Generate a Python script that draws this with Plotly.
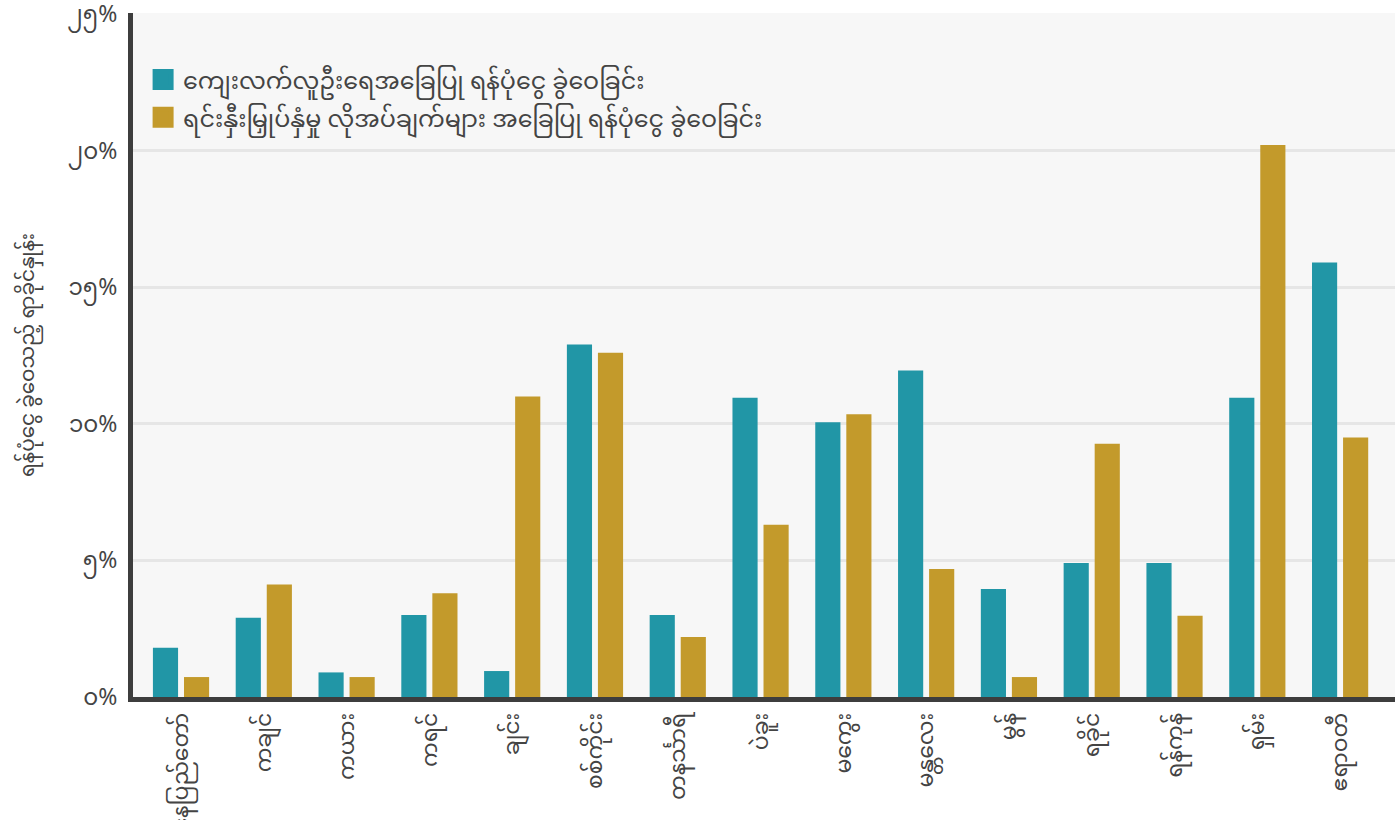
import plotly.graph_objects as go

regions = ["နေပြည်တော်", "ကချင်", "ကယား", "ကရင်", "ချင်း", "စစ်ကိုင်း", "တနင်္သာရီ",
           "ပဲခူး", "မကွေး", "မန္တလေး", "မွန်", "ရခိုင်", "ရန်ကုန်", "ရှမ်း", "ဧရာဝတီ"]
rural_pop = [1.8, 2.9, 0.9, 3.0, 0.95, 12.9, 3.0, 10.95, 10.05, 11.95, 3.95, 4.9, 4.9, 10.95, 15.9]
resource_need = [0.73, 4.12, 0.73, 3.8, 11.0, 12.6, 2.2, 6.3, 10.35, 4.68, 0.73, 9.27, 2.97, 20.2, 9.5]

series_names = ["ကျေးလက်လူဦးရေအခြေပြု ရန်ပုံငွေ ခွဲဝေခြင်း",
                "ရင်းနှီးမြှုပ်နှံမှု လိုအပ်ချက်များ အခြေပြု ရန်ပုံငွေ ခွဲဝေခြင်း"]
colors = ["#2196a6", "#c39a2b"]

tick_vals = [0, 5, 10, 15, 20, 25]
tick_text = ["၀%", "၅%", "၁၀%", "၁၅%", "၂၀%", "၂၅%"]
y_title = "ရန်ပုံငွေ ခွဲဝေသည့် ရာခိုင်နှုန်း"

FONT = "Noto Sans Myanmar, Padauk, Myanmar Text, Noto Sans, Roboto, sans-serif"
TXT = "#444444"

fig = go.Figure()
for name, vals, col in zip(series_names, [rural_pop, resource_need], colors):
    fig.add_trace(go.Bar(x=regions, y=vals, name=name, marker=dict(color=col, line=dict(width=0)),
                         showlegend=False, hovertemplate="%{x}: %{y}%<extra></extra>"))
# legend proxies (larger squares)
for i, (name, col) in enumerate(zip(series_names, colors)):
    fig.add_trace(go.Scatter(x=[None], y=[None], mode="markers", name=name,
                             legendgroup="g%d" % i,
                             marker=dict(symbol="square", size=16, color=col,
                                         line=dict(color=col, width=9)),
                             showlegend=True, hoverinfo="skip"))

fig.update_layout(
    width=1396, height=820,
    margin=dict(l=133, r=1, t=13, b=123, autoexpand=False),
    paper_bgcolor="white", plot_bgcolor="#f7f7f7",
    barmode="group", bargap=0.25, bargroupgap=0.19,
    font=dict(family=FONT, color=TXT, size=20),
    legend=dict(x=0.008, y=0.935, xanchor="left", yanchor="top",
                bgcolor="rgba(0,0,0,0)", font=dict(size=23.8, color=TXT),
                tracegroupgap=4, itemwidth=30),
    xaxis=dict(type="category", range=[-0.58, 14.663], tickangle=-90, automargin=False,
               showline=True, linewidth=5, linecolor="#3d3d3d", showgrid=False,
               ticks="", tickfont=dict(size=22, color=TXT), ticklabelstandoff=2,
               fixedrange=True),
    yaxis=dict(range=[0, 25.03], tickvals=tick_vals, ticktext=tick_text, automargin=False,
               showline=True, linewidth=5, linecolor="#3d3d3d",
               showgrid=True, gridcolor="#e6e6e6", gridwidth=2.5, zeroline=False,
               ticks="", tickfont=dict(size=23, color=TXT), ticklabelstandoff=6,
               ticklabeloverflow="allow",
               title=dict(text=y_title, font=dict(size=20, color=TXT), standoff=29),
               fixedrange=True),
)

fig.write_html("out.html", config={"displayModeBar": False},
               post_script="document.body.style.margin='0px';")
